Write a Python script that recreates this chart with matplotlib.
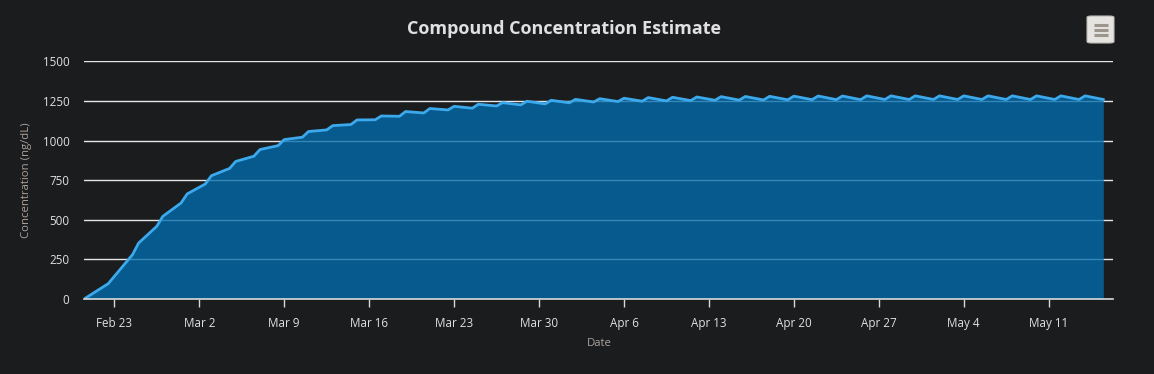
import numpy as np
import matplotlib
matplotlib.use("Agg")
import matplotlib.pyplot as plt
import matplotlib.dates as mdates
from matplotlib.patches import FancyBboxPatch
from matplotlib.lines import Line2D

# ---- data ----
start_time = "2025-02-20T12:00"
# concentration just before each dose (every 2 days)
trough_values = [0, 97, 280, 459, 606, 726, 824, 901, 968, 1021, 1067, 1101, 1131,
                 1153, 1174, 1193, 1204, 1218, 1225, 1231, 1238, 1243, 1246, 1248,
                 1250, 1252, 1254, 1255, 1256, 1257, 1258, 1258, 1258, 1259, 1259,
                 1259, 1259, 1259, 1259, 1259, 1259, 1259, 1259]
# concentration 12 h after each dose
peak_values = [24, 143, 353, 522, 663, 778, 868, 943, 1006, 1057, 1094, 1130,
               1155, 1183, 1202, 1216, 1229, 1239, 1248, 1254, 1260, 1264, 1267,
               1271, 1273, 1275, 1277, 1278, 1279, 1280, 1281, 1281, 1282, 1282,
               1282, 1282, 1282, 1282, 1282, 1282, 1282, 1282]
y_ticks = [0, 250, 500, 750, 1000, 1250, 1500]
title = "Compound Concentration Estimate"
y_title = "Concentration (ng/dL)"
x_title = "Date"

# ---- build series ----
t0 = np.datetime64(start_time)
half_day = np.timedelta64(12, "h")
times, values = [], []
for k, tv in enumerate(trough_values):
    times.append(t0 + 4 * k * half_day)
    values.append(tv)
    if k < len(peak_values):
        times.append(t0 + (4 * k + 1) * half_day)
        values.append(peak_values[k])
times = np.array(times, dtype="datetime64[m]")
values = np.array(values, dtype=float)

BG = "#1b1c1e"
W, H = 1154, 374
fig = plt.figure(figsize=(W / 100, H / 100), dpi=100, facecolor=BG)
plt.rcParams["font.family"] = ["Open Sans", "DejaVu Sans"]

ax_l, ax_r, ax_t, ax_b = 84, 1113, 61.3, 299
ax = fig.add_axes([ax_l / W, (H - ax_b) / H, (ax_r - ax_l) / W, (ax_b - ax_t) / H])
ax.set_facecolor(BG)

ax.fill_between(times, values, 0, color="#026cad", alpha=0.78, linewidth=0, zorder=2)
ax.plot(times, values, color="#3ba9ec", linewidth=2.0, zorder=3, solid_joinstyle="round")

ax.set_ylim(0, 1500)
ax.set_yticks(y_ticks)
ax.set_yticklabels([str(v) for v in y_ticks])
ax.set_xlim(times[0], times[0] + np.timedelta64(int(84.8 * 24 * 60), "m"))

ax.xaxis.set_major_locator(mdates.WeekdayLocator(byweekday=mdates.SU))
ax.xaxis.set_major_formatter(plt.FuncFormatter(
    lambda x, pos: f"{mdates.num2date(x):%b} {mdates.num2date(x).day}"))

ax.grid(axis="y", color="#e6e6e6", linewidth=1.0, zorder=1)
ax.grid(axis="x", visible=False)
ax.set_axisbelow(True)

for s in ["top", "right", "left"]:
    ax.spines[s].set_visible(False)
ax.spines["bottom"].set_color("#d8d8d8")
ax.spines["bottom"].set_linewidth(1.2)
ax.spines["bottom"].set_zorder(4)

ax.tick_params(axis="y", length=0, pad=10.5, labelsize=8.4, labelcolor="#e0e0e0")
ax.tick_params(axis="x", length=6, width=1, color="#d8d8d8", pad=7,
               labelsize=8.4, labelcolor="#e0e0e0")

fig.text(564 / W, 1 - 29 / H, title, ha="center", va="center",
         fontsize=13, fontweight="bold", color="#e0e0e3")
fig.text(27 / W, 1 - 180 / H, y_title, ha="center", va="center", rotation=90,
         fontsize=8.2, color="#a9a39d")
fig.text(599 / W, 1 - 343 / H, x_title, ha="center", va="center",
         fontsize=8.2, color="#a9a39d")

# menu button
bx, by, bw, bh = 1087, 16, 27, 27
btn = FancyBboxPatch((bx / W, 1 - (by + bh) / H), bw / W, bh / H,
                     boxstyle="round,pad=0,rounding_size=0.004",
                     transform=fig.transFigure, facecolor="#e6e4e0",
                     edgecolor="#bdbab5", linewidth=0.8)
fig.add_artist(btn)
for yy in (24.5, 29.5, 34.5):
    fig.add_artist(Line2D([1094 / W, 1108 / W], [1 - yy / H, 1 - yy / H],
                          transform=fig.transFigure, color="#9c958c",
                          linewidth=2.2, solid_capstyle="butt"))

fig.savefig("out.png", dpi=100, facecolor=BG)
